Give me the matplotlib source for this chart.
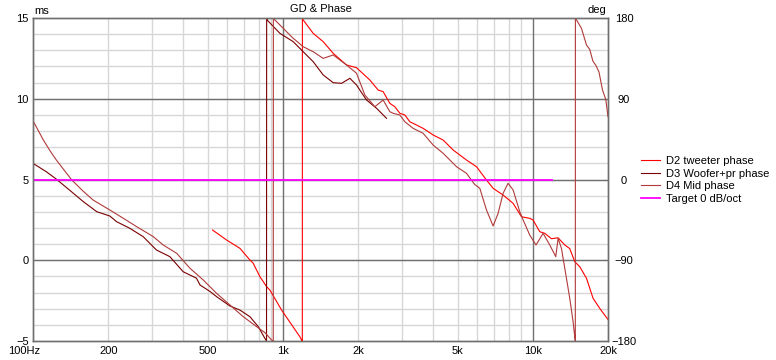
import matplotlib
matplotlib.use('Agg')
import matplotlib.pyplot as plt
import matplotlib.transforms as mtransforms
from matplotlib.ticker import NullLocator

plt.rcParams['font.family'] = ['Liberation Sans', 'DejaVu Sans']
plt.rcParams['font.size'] = 8

# D2 tweeter phase (deg)
tw_freq = [523, 595, 673, 738, 761, 809, 861, 887, 988, 1169, 1188, 1196, 1197,
           1206, 1322, 1450, 1590, 1798, 1971, 2228, 2406, 2519, 2679, 2805, 2938,
           3076, 3221, 3321, 3641, 3993, 4378, 4800, 5428, 5952, 6527, 6939, 7607,
           8343, 9010, 9727, 10031, 10666, 11169, 11879, 12627, 13428, 14060, 14723,
           15417, 16397, 17430, 18535, 19833, 20000]
tw_phase = [-56.3, -67.4, -76.7, -89.7, -93.4, -108.3, -119.5, -123.2, -145.5, -175.2, -179, -180, 180,
            177.8, 162.9, 153.6, 140.6, 127.6, 124.6, 110.9, 99.7, 97.9, 84.9, 81.1, 73.8,
            71.9, 64.4, 62.6, 57, 49.6, 44, 32.9, 21.7, 14.3, -0.6, -9.8, -17.3,
            -26.6, -41.5, -43.3, -45.2, -58.2, -60, -66, -65, -73, -77, -91.6,
            -97.2, -110, -132.4, -143.6, -154.7, -156]

# D3 woofer+pr phase
wf_freq = [100, 113, 124, 141, 159, 180, 203, 216, 244, 276, 312, 353, 399, 451, 466,
           511, 543, 614, 673, 738, 797, 847, 860, 861, 870, 973, 1100, 1206, 1322,
           1450, 1590, 1717, 1854, 1971, 2161, 2370, 2598]
wf_phase = [18, 8.7, 0.4, -12.5, -24.7, -35.9, -40.7, -47, -54.4, -63.7, -78.6, -86, -102.8, -110, -117.6,
            -124.8, -130.6, -141, -145.5, -152.9, -164, -177, -180, 180, 177, 162.9, 153.6, 142.4, 131.3,
            116.5, 107.9, 107.2, 112.8, 105.3, 88.6, 79.4, 68.2]

# D4 mid phase
mid_freq = [100, 110, 117, 124, 143, 158, 174, 203, 230, 260, 303, 332, 376, 425, 480, 543, 614,
            694, 785, 850, 901, 915, 916, 929, 973, 1050, 1100, 1206, 1322, 1450, 1590,
            1798, 1971, 2128, 2333, 2519, 2679, 2763, 2938, 3076, 3321, 3641, 3993, 4378,
            4951, 5428, 5861, 6138, 6527, 6939, 7266, 7607, 7966, 8343, 8872, 9147, 9727,
            10300, 11000, 11695, 12360, 12627, 13022, 13636, 14060, 14500, 14723, 14800,
            14810, 14955, 15660, 16397, 16904, 17400, 17900, 18400, 19000, 19600, 20000]
mid_phase = [65.5, 44, 32, 21.7, -0.6, -12.5, -22.9, -34, -43.3, -52.6, -63.7, -73, -82.3, -99, -112, -126.9, -139.9,
             -152.9, -164, -171, -178.9, -180, 180, 177.8, 172.2, 162.9, 157.4, 148, 142.4, 135, 138.8,
             127.6, 118.4, 94.2, 81.1, 88.6, 75.6, 73.8, 71.9, 64.4, 57, 51.5, 38.4, 29.2,
             14.3, 6.9, -5.6, -9.8, -34, -51.8, -37.7, -15.4, -4.2, -11.7, -36, -45, -62,
             -73, -60, -73, -86, -65.6, -76.7, -110, -132.4, -158.5, -175.2, -180,
             180, 178, 168.5, 150, 145, 132, 127, 120, 100, 89, 70]

# target line
target_freq = [100, 11900]
target_phase = [0, 0]

xtick_vals = [100, 200, 500, 1000, 2000, 5000, 10000, 20000]
xtick_labels = ['100Hz', '200', '500', '1k', '2k', '5k', '10k', '20k']
minor_freqs = [200, 300, 400, 500, 600, 700, 800, 900,
               2000, 3000, 4000, 5000, 6000, 7000, 8000, 9000]

light = '#d7d7d7'
dark = '#707070'

fig = plt.figure(figsize=(7.76, 3.6), dpi=100)
ax = fig.add_axes([33/776, 19/360, 575/776, 323/360])
ax.set_xscale('log')
ax.set_xlim(100, 20000)
ax.set_ylim(-5, 15)
ax.set_yticks([-5, 0, 5, 10, 15])
ax.set_xticks(xtick_vals)
ax.set_xticklabels(xtick_labels)
ax.xaxis.set_minor_locator(NullLocator())
ax.tick_params(length=0)
ax.tick_params(axis='y', pad=3)
ax.tick_params(axis='x', pad=3.5)

# grid
for f in minor_freqs:
    ax.axvline(f, color=light, lw=1, zorder=0)
for f in [1000, 10000]:
    ax.axvline(f, color=dark, lw=1, zorder=0.5)
for v in range(-4, 15):
    ax.axhline(v, color=light, lw=1, zorder=0)
for v in [0, 5, 10]:
    ax.axhline(v, color=dark, lw=1, zorder=0.5)

lbl = ax.get_xticklabels()[0]
lbl.set_transform(lbl.get_transform() + mtransforms.ScaledTranslation(-0.09, 0, fig.dpi_scale_trans))

ax2 = ax.twinx()
ax2.set_ylim(-180, 180)
ax2.set_yticks([-180, -90, 0, 90, 180])
ax2.tick_params(length=0, pad=11.5)
for t in ax2.get_yticklabels():
    t.set_ha('center')

for a in (ax, ax2):
    for s in a.spines.values():
        s.set_color(dark)
        s.set_linewidth(1)

l1, = ax2.plot(tw_freq, tw_phase, color='#ff0000', lw=0.8)
l2, = ax2.plot(wf_freq, wf_phase, color='#7a0000', lw=0.8)
l3, = ax2.plot(mid_freq, mid_phase, color='#b03a3a', lw=0.8)
l4, = ax2.plot(target_freq, target_phase, color='#ff00ff', lw=1.3)

ax.set_title('GD & Phase', fontsize=8, pad=4.3)
fig.text(34/776, 1 - 14/360, 'ms', va='baseline')
fig.text(606/776, 1 - 13/360, 'deg', ha='right', va='baseline')

fig.legend([l1, l2, l3, l4],
           ['D2 tweeter phase', 'D3 Woofer+pr phase', 'D4 Mid phase', 'Target 0 dB/oct'],
           loc='center left', bbox_to_anchor=(641/776, 0.5), frameon=False,
           handlelength=1.7, handletextpad=0.55, labelspacing=0.25,
           borderpad=0, borderaxespad=0, fontsize=8)

fig.savefig('out.png', dpi=100)
